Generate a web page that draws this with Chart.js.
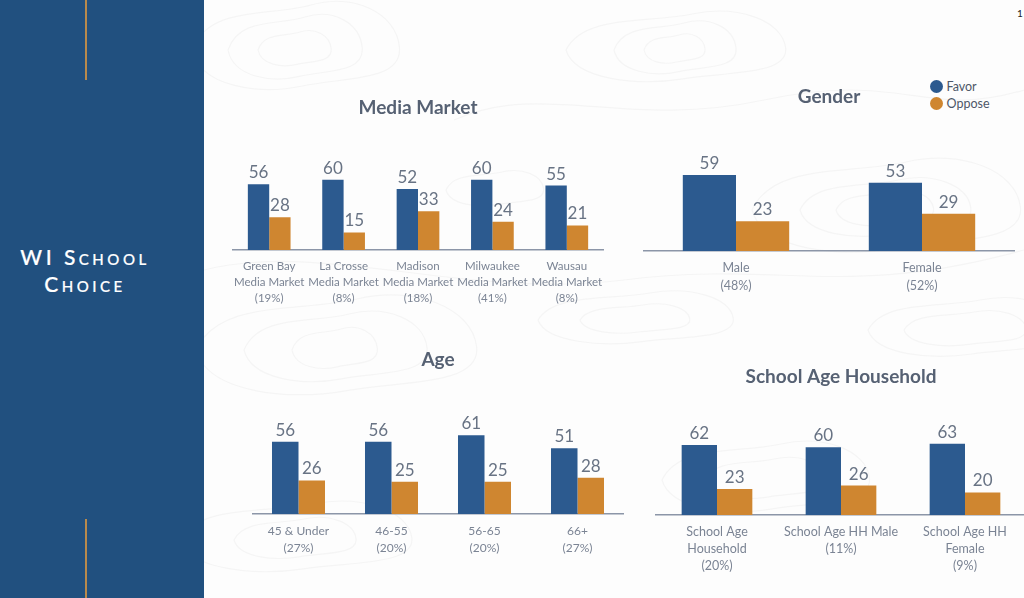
<!DOCTYPE html>
<html><head><meta charset="utf-8">
<script src="https://cdn.jsdelivr.net/npm/chart.js@4"></script>
<style>
html,body{margin:0;padding:0;width:1024px;height:598px;overflow:hidden;background:#fdfdfd;font-family:Lato,sans-serif}
#side{position:absolute;left:0;top:0;width:204px;height:598px;background:#21507f}
.gold{position:absolute;left:84.5px;width:2px;background:#b98a4c}
#head{position:absolute;left:0;top:243px;width:170px;color:#fff;text-align:center;font-size:21px;font-weight:500;line-height:27px;letter-spacing:3.5px;font-variant:small-caps;-webkit-text-stroke:.2px #fff}
canvas{position:absolute}
#bg{position:absolute;left:204px;top:0}
#legend{position:absolute;left:929.5px;top:79px;font-size:12.5px;color:#4d5768;line-height:16.5px}
#legend i{display:inline-block;width:13px;height:13px;border-radius:50%;vertical-align:-2px;margin-right:4px}
#pg{position:absolute;left:1017px;top:7px;font-size:10px;color:#222}
</style></head><body>
<svg id="bg" width="820" height="598" fill="none" stroke="#f5f5f5" stroke-width="1.2">
<defs><path id="blob" vector-effect="non-scaling-stroke" d="M-60 0C-50 -30 -15 -22 10 -30S60 -25 62 -2 30 18 5 24-55 25-60 0Z"/></defs>
<use href="#blob" transform="translate(90 50) scale(.6)"/><use href="#blob" transform="translate(90 50) scale(1.1)"/><use href="#blob" transform="translate(90 50) scale(1.7 1.5)"/>
<use href="#blob" transform="translate(470 50) scale(.5)"/><use href="#blob" transform="translate(470 50) scale(1 .9)"/><use href="#blob" transform="translate(470 50) scale(1.8 1.2)"/>
<use href="#blob" transform="translate(680 210) scale(.8 .6)"/><use href="#blob" transform="translate(680 210) scale(1.4 1)"/><use href="#blob" transform="translate(680 210) scale(2.2 1.6)"/>
<use href="#blob" transform="translate(130 350) scale(.7)"/><use href="#blob" transform="translate(130 350) scale(1.5 1.2)"/><use href="#blob" transform="translate(130 350) scale(2.3 1.7)"/>
<use href="#blob" transform="translate(430 320) scale(.9 .5)"/><use href="#blob" transform="translate(430 320) scale(1.6 .9)"/>
<use href="#blob" transform="translate(560 480) scale(1 .7)"/><use href="#blob" transform="translate(560 480) scale(1.7 1.2)"/>
<use href="#blob" transform="translate(90 540) scale(1 .7)"/><use href="#blob" transform="translate(90 540) scale(1.9 1.2)"/>
<use href="#blob" transform="translate(290 190) scale(.8 .6)"/>
<use href="#blob" transform="translate(760 330) scale(1 .6)"/><use href="#blob" transform="translate(760 330) scale(1.6 1)"/>
<path d="M0 270C120 240 260 300 420 280S640 300 820 250"/>
<path d="M250 120C340 80 420 130 560 100S720 120 820 90"/>
</svg>
<div id="side"></div>
<div class="gold" style="top:0;height:80px"></div>
<div class="gold" style="top:519px;height:79px"></div>
<div id="head">WI School<br>Choice</div>
<div id="pg">1</div>
<div id="legend"></div>
<canvas id="c1"></canvas><canvas id="c2"></canvas><canvas id="c3"></canvas><canvas id="c4"></canvas>
<script>
const seriesNames = ["Favor", "Oppose"];
const seriesColors = ["#2c5a8f", "#cf8630"];

const marketTitle = "Media Market";
const marketLabels = [["Green Bay","Media Market","(19%)"],["La Crosse","Media Market","(8%)"],["Madison","Media Market","(18%)"],["Milwaukee","Media Market","(41%)"],["Wausau","Media Market","(8%)"]];
const marketFavor = [56, 60, 52, 60, 55];
const marketOppose = [28, 15, 33, 24, 21];

const genderTitle = "Gender";
const genderLabels = [["Male","(48%)"],["Female","(52%)"]];
const genderFavor = [59, 53];
const genderOppose = [23, 29];

const ageTitle = "Age";
const ageLabels = [["45 & Under","(27%)"],["46-55","(20%)"],["56-65","(20%)"],["66+","(27%)"]];
const ageFavor = [56, 56, 61, 51];
const ageOppose = [26, 25, 25, 28];

const schoolTitle = "School Age Household";
const schoolLabels = [["School Age","Household","(20%)"],["School Age HH Male","(11%)"],["School Age HH","Female","(9%)"]];
const schoolFavor = [62, 60, 63];
const schoolOppose = [23, 26, 20];

document.getElementById('legend').innerHTML = seriesNames.map((n,i)=>`<div><i style="background:${seriesColors[i]}"></i>${n}</div>`).join('');

const valueLabels = {id:'valueLabels', afterDatasetsDraw(chart, args, o){
  const c = chart.ctx; c.save();
  c.font = '400 '+o.size+'px Lato'; c.fillStyle = '#687384'; c.textAlign='center'; c.textBaseline='bottom';
  chart.data.datasets.forEach((d,i)=>{
    chart.getDatasetMeta(i).data.forEach((b,j)=>{ c.fillText(d.data[j], b.x, b.y-3); });
  });
  c.restore();
}};

function make(id, box, title, labels, favor, oppose, s){
  const cv = document.getElementById(id);
  cv.style.left = box.x+'px'; cv.style.top = box.y+'px';
  cv.style.width = box.w+'px'; cv.style.height = box.h+'px';
  cv.width = box.w; cv.height = box.h;
  new Chart(cv, {
    type:'bar',
    plugins:[valueLabels],
    data:{labels, datasets:[
      {label:seriesNames[0], data:favor, backgroundColor:seriesColors[0]},
      {label:seriesNames[1], data:oppose, backgroundColor:seriesColors[1]}
    ]},
    options:{
      responsive:false, animation:false, devicePixelRatio:1,
      layout:{padding:0},
      datasets:{bar:{barPercentage:1, categoryPercentage:s.cat}},
      scales:{
        x:{grid:{display:false, drawTicks:false}, border:{display:true,color:'#8c96a8',width:1.5},
           afterFit(sc){ sc.paddingLeft=0; sc.paddingRight=0; sc.height=s.axisH; },
           ticks:{color:'#7b8494', font:{family:'Lato',size:s.tick,lineHeight:s.lh}, padding:s.pad, maxRotation:0, autoSkip:false}},
        y:{display:false, min:0, max:s.yMax}
      },
      plugins:{
        legend:{display:false}, tooltip:{enabled:false},
        valueLabels:{size:17},
        title:{display:true, text:title, color:'#566173', align:'center',
               font:{family:'Lato',size:19,weight:'bold',lineHeight:1.2}, padding:{top:0,bottom:10}}
      }
    }
  });
}

make('c1',{x:232,y:96,w:372,h:210},marketTitle,marketLabels,marketFavor,marketOppose,{yMax:103.4,cat:0.574,tick:11.5,lh:1.35,pad:9,axisH:56});
make('c2',{x:643,y:85,w:372,h:221},genderTitle,genderLabels,genderFavor,genderOppose,{yMax:103.4,cat:0.572,tick:12.5,lh:1.44,pad:8,axisH:55});
make('c3',{x:252,y:348,w:372,h:221},ageTitle,ageLabels,ageFavor,ageOppose,{yMax:103.2,cat:0.57,tick:12,lh:1.4,pad:9,axisH:55});
make('c4',{x:655,y:365,w:372,h:210},schoolTitle,schoolLabels,schoolFavor,schoolOppose,{yMax:103.7,cat:0.57,tick:12.5,lh:1.34,pad:9,axisH:60});
</script></body></html>
